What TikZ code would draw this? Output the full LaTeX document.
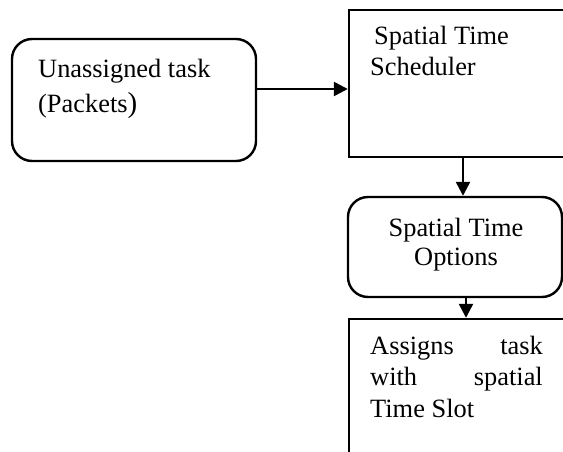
\documentclass[tikz,border=0pt]{standalone}
\usepackage{fontspec}
\setmainfont{Liberation Serif}
\usetikzlibrary{arrows.meta}
\begin{document}
\begin{tikzpicture}[x=1pt,y=-1pt,
  box/.style={draw=black,line width=2.4pt,inner sep=0pt,fill=none},
  rbox/.style={box,rounded corners=20pt},
  lbl/.style={inner sep=0pt,font=\fontsize{26.4}{32}\selectfont,text=black},
  conn/.style={line width=2.4pt,-{Triangle[length=14pt,width=14pt]}}]
\useasboundingbox (0,0) rectangle (563,452);
\clip (0,0) rectangle (563,452);
\fill[white] (0,0) rectangle (563,452);
% boxes
\node[rbox,minimum width=244pt,minimum height=122pt] (task) at (134,100) {};
\node[box,minimum width=271pt,minimum height=147pt] (sched) at (484.5,83.5) {};
\node[rbox,minimum width=214pt,minimum height=100pt] (opts) at (455,247) {};
\node[box,minimum width=271pt,minimum height=181pt] (assign) at (484.5,409.5) {};
% texts
\node[lbl,anchor=base west] (t1) at (38,78) {Unassigned task};
\node[lbl,anchor=base west] (t2) at (38,113) {(Packets{\fontsize{29}{32}\selectfont)}};
\node[lbl,anchor=base west] (s1) at (374,45) {Spatial Time};
\node[lbl,anchor=base west] (s2) at (370,76) {Scheduler};
\node[lbl,anchor=base] (o1) at (456,236) {Spatial Time};
\node[lbl,anchor=base] (o2) at (456,265) {Options};
\node[lbl,anchor=base west] (a1) at (370,354) {Assigns};
\node[lbl,anchor=base east] (a2) at (543,354) {task};
\node[lbl,anchor=base west] (a3) at (370,385) {with};
\node[lbl,anchor=base east] (a4) at (543,385) {spatial};
\node[lbl,anchor=base west] (a5) at (370,417) {Time Slot};
% connectors
\coordinate (ay) at (0,89);
\coordinate (dx1) at (463,0);
\coordinate (dx2) at (466,0);
\draw[conn] (task.east |- ay) -- (sched.west |- ay);
\draw[conn] (sched.south -| dx1) -- (opts.north -| dx1);
\draw[conn] (opts.south -| dx2) -- (assign.north -| dx2);
\end{tikzpicture}
\end{document}
